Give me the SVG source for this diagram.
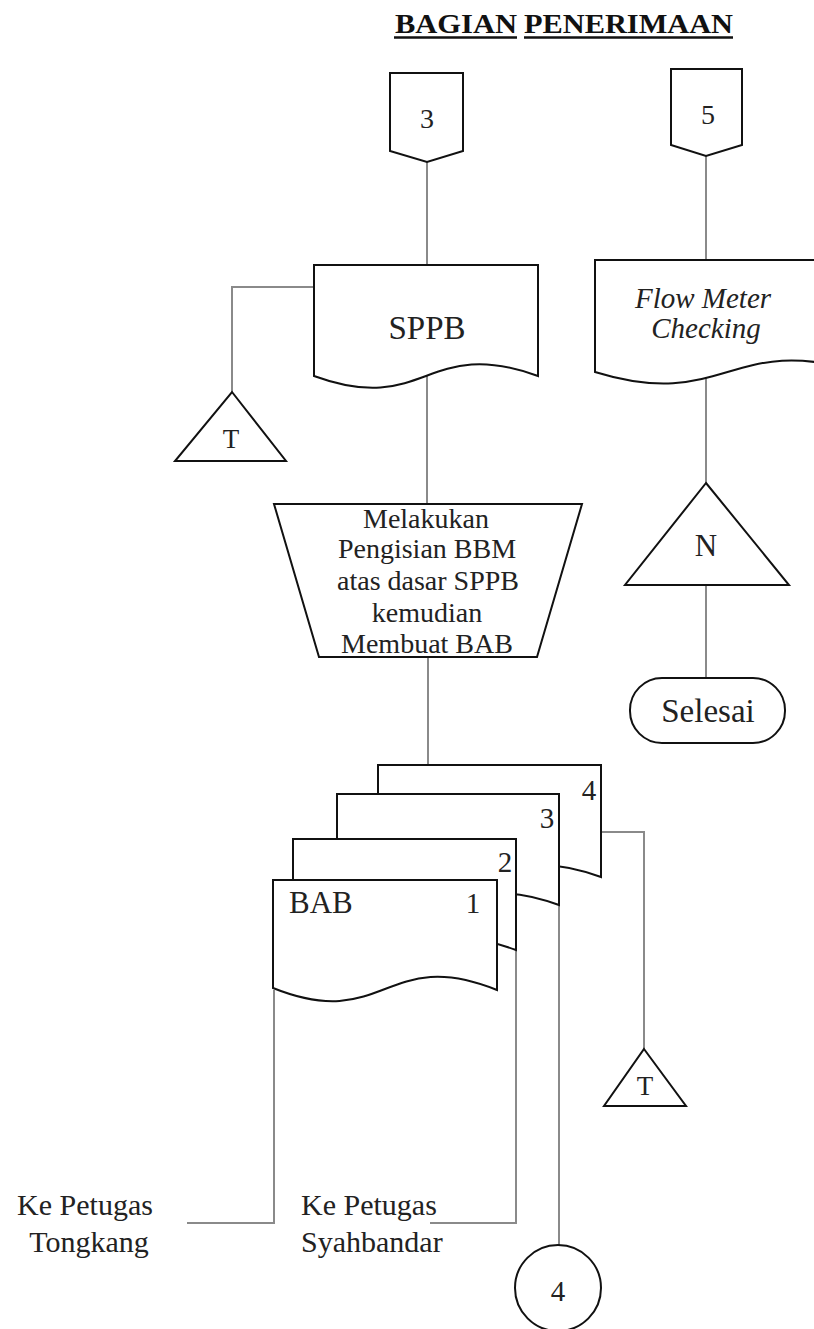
<svg xmlns="http://www.w3.org/2000/svg" width="814" height="1329" viewBox="0 0 814 1329">
<style>
  .shape { fill: #fff; stroke: #111; stroke-width: 2; stroke-linejoin: miter; }
  .conn { fill: none; stroke: #8a8a8a; stroke-width: 2; }
  text { font-family: "Liberation Serif", "Times New Roman", serif; fill: #222; }
  .c { text-anchor: middle; }
  .title { font-weight: bold; font-size: 27px; fill: #111; }
  .ul { stroke: #111; stroke-width: 2.5; }
</style>
<rect width="814" height="1329" fill="#fff"/>

<g id="title">
  <text class="title" x="395" y="33" textLength="122" lengthAdjust="spacingAndGlyphs">BAGIAN</text>
  <text class="title" x="524" y="33" textLength="209" lengthAdjust="spacingAndGlyphs">PENERIMAAN</text>
  <line class="ul" x1="394" y1="37.5" x2="517" y2="37.5"/>
  <line class="ul" x1="524" y1="37.5" x2="733" y2="37.5"/>
</g>

<g id="connectors">
  <polyline class="conn" points="427,162 427,265"/>
  <polyline class="conn" points="427,376 427,504"/>
  <polyline class="conn" points="314,287 232,287 232,392"/>
  <polyline class="conn" points="428,657 428,765"/>
  <polyline class="conn" points="706,156 706,260"/>
  <polyline class="conn" points="706,374 706,483"/>
  <polyline class="conn" points="706,585 706,678"/>
  <polyline class="conn" points="601,832 644,832 644,1049"/>
  <polyline class="conn" points="274,990 274,1223 187,1223"/>
  <polyline class="conn" points="516,950 516,1223 430,1223"/>
  <polyline class="conn" points="559,905 559,1245"/>
</g>

<g id="offpage-3">
  <polygon class="shape" points="390,73 463,73 463,151 427,162 390,151"/>
  <text class="c" x="427" y="128" font-size="28">3</text>
</g>

<g id="offpage-5">
  <polygon class="shape" points="671,69 742,69 742,145 706,156 671,145"/>
  <text class="c" x="708" y="124" font-size="28">5</text>
</g>

<g id="doc-sppb">
  <path class="shape" d="M314,265 H538 V376 C426,335 426,417 314,376 Z"/>
  <text class="c" x="427" y="339" font-size="33">SPPB</text>
</g>

<g id="archive-t1">
  <polygon class="shape" points="232,392 286,461 175,461"/>
  <text class="c" x="231" y="448" font-size="27">T</text>
</g>

<g id="doc-flowmeter">
  <path class="shape" d="M595,260 H860 V372 C730,332 725,412 595,372 Z"/>
  <text class="c" x="703" y="308" font-size="29" font-style="italic">Flow Meter</text>
  <text class="c" x="706" y="338" font-size="29" font-style="italic">Checking</text>
</g>

<g id="process-trapezoid">
  <polygon class="shape" points="274,504 582,504 537,657 319,657"/>
  <text class="c" x="426" y="528" font-size="28">Melakukan</text>
  <text class="c" x="427" y="558" font-size="28">Pengisian BBM</text>
  <text class="c" x="428" y="590" font-size="28">atas dasar SPPB</text>
  <text class="c" x="427" y="622" font-size="28">kemudian</text>
  <text class="c" x="427" y="653" font-size="28">Membuat BAB</text>
</g>

<g id="archive-n">
  <polygon class="shape" points="706,483 789,585 625,585"/>
  <text class="c" x="706" y="556" font-size="31">N</text>
</g>

<g id="terminator-selesai">
  <rect class="shape" x="630" y="678" width="155" height="65" rx="32" ry="32"/>
  <text class="c" x="708" y="722" font-size="33">Selesai</text>
</g>

<g id="doc-bab-4">
  <path class="shape" d="M378,765 H601 V877 C490,836 490,918 378,877 Z"/>
  <text class="c" x="589" y="800" font-size="29">4</text>
</g>
<g id="doc-bab-3">
  <path class="shape" d="M337,794 H559 V905 C448,864 448,946 337,905 Z"/>
  <text class="c" x="547" y="828" font-size="29">3</text>
</g>
<g id="doc-bab-2">
  <path class="shape" d="M293,839 H516 V950 C405,909 405,991 293,950 Z"/>
  <text class="c" x="505" y="872" font-size="29">2</text>
</g>
<g id="doc-bab-1">
  <path class="shape" d="M273,880 H497 V990 C385,945 385,1033 273,988 Z"/>
  <text x="289" y="913" font-size="31">BAB</text>
  <text class="c" x="473" y="913" font-size="29">1</text>
</g>

<g id="archive-t2">
  <polygon class="shape" points="644,1049 686,1106 604,1106"/>
  <text class="c" x="645" y="1095" font-size="27">T</text>
</g>

<g id="connector-4">
  <circle class="shape" cx="558" cy="1288" r="43"/>
  <text class="c" x="558" y="1301" font-size="29">4</text>
</g>

<g id="label-tongkang">
  <text class="c" x="85" y="1215" font-size="30">Ke Petugas</text>
  <text class="c" x="89" y="1252" font-size="30">Tongkang</text>
</g>

<g id="label-syahbandar">
  <text x="301" y="1215" font-size="30">Ke Petugas</text>
  <text x="301" y="1252" font-size="30">Syahbandar</text>
</g>
</svg>
